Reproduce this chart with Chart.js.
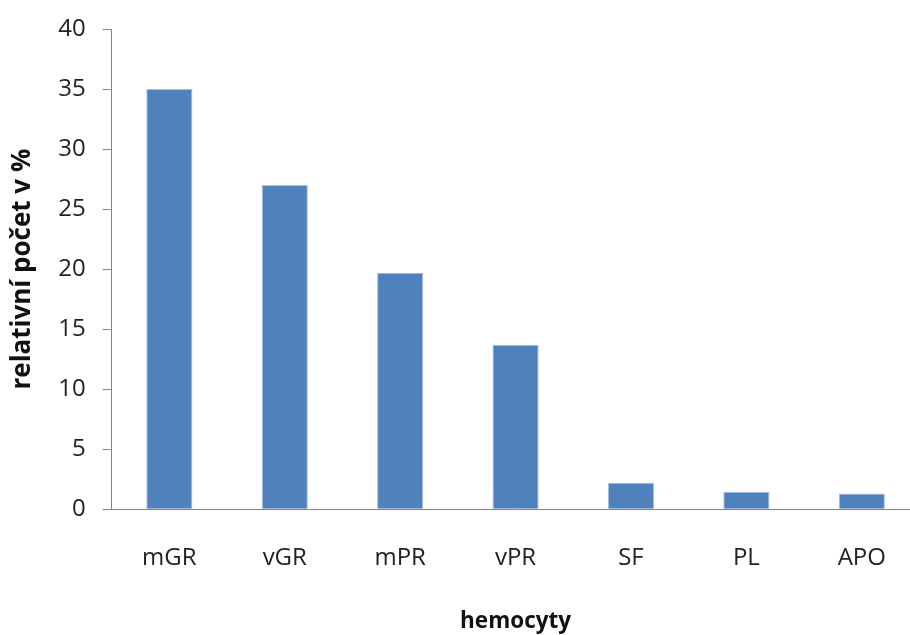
<!DOCTYPE html>
<html>
<head>
<meta charset="utf-8">
<script src="https://cdn.jsdelivr.net/npm/chart.js@4"></script>
<style>
  html, body { margin: 0; padding: 0; background: #fff; overflow: hidden; }
  #wrap { width: 921px; height: 635px; }
</style>
</head>
<body>
<div id="wrap"><canvas id="hemocytyChart"></canvas></div>
<script>
// Relativní počet hemocytů
const kategorie = ['mGR', 'vGR', 'mPR', 'vPR', 'SF', 'PL', 'APO'];
const hodnoty = [35.0, 27.0, 19.7, 13.7, 2.2, 1.45, 1.3];
const yTicks = [0, 5, 10, 15, 20, 25, 30, 35, 40];

const osa = '#868686';
const ctx = document.getElementById('hemocytyChart').getContext('2d');
const hemocytyChart = new Chart(ctx, {
    type: 'bar',
    data: {
        labels: kategorie,
        datasets: [
            {
                label: 'relativní počet v %',
                data: hodnoty,
                backgroundColor: '#4F81BD',
                borderColor: '#A7BFDE',
                borderWidth: 1,
                categoryPercentage: 1,
                barPercentage: 0.4
            }
        ]
    },
    options: {
        responsive: true,
        maintainAspectRatio: false,
        animation: false,
        layout: { padding: { top: 0, right: 1, left: 0, bottom: 0 } },
        plugins: {
            legend: { display: false },
            tooltip: { enabled: false }
        },
        scales: {
            x: {
                grid: { display: true, drawOnChartArea: false, drawTicks: false },
                border: { display: true, color: osa, width: 1 },
                ticks: {
                    color: '#222',
                    padding: 35,
                    font: { family: 'Open Sans', size: 24 }
                },
                title: {
                    display: true,
                    text: 'hemocyty',
                    color: '#111',
                    font: { family: 'Open Sans', size: 22.5, weight: 'bold' },
                    padding: { top: 0, bottom: 0 }
                }
            },
            y: {
                min: 0,
                max: 40,
                afterBuildTicks: (axis) => { axis.ticks = yTicks.map(v => ({ value: v })); },
                grid: { display: true, drawOnChartArea: false, drawTicks: true, tickLength: 9, color: osa },
                border: { display: true, color: osa, width: 1 },
                ticks: {
                    color: '#222',
                    padding: 17,
                    font: { family: 'Open Sans', size: 24, lineHeight: 1.0 }
                },
                title: {
                    display: true,
                    text: 'relativní počet v %',
                    color: '#111',
                    font: { family: 'Open Sans', size: 26, weight: 'bold' },
                    padding: { top: 7, bottom: 3 }
                }
            }
        }
    }
});
</script>
</body>
</html>
